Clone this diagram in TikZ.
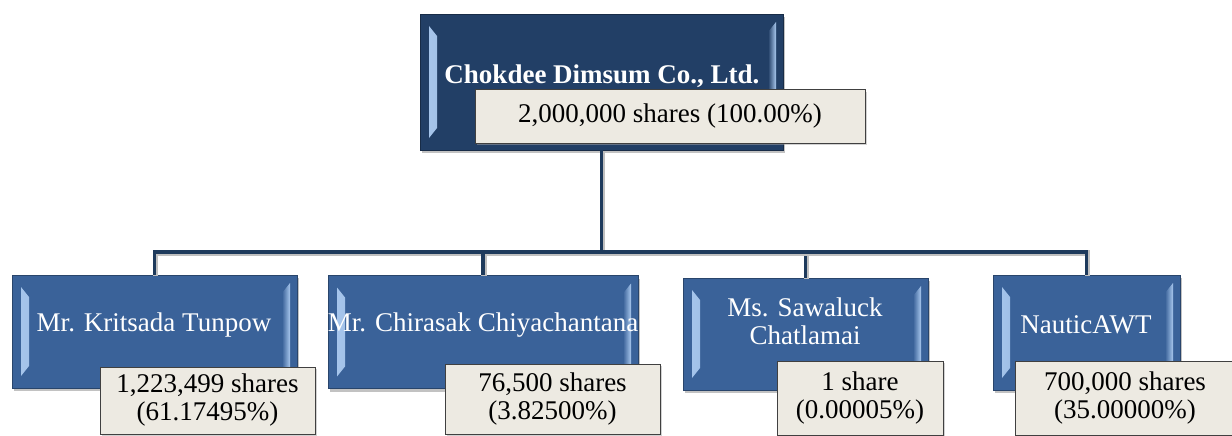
\documentclass[tikz,border=0pt]{standalone}
\usepackage{fontspec}
\setmainfont{Liberation Serif}
\usetikzlibrary{shadows,calc}
\definecolor{navytop}{HTML}{223F66}
\definecolor{boxblue}{HTML}{3A6299}
\definecolor{bevlight}{HTML}{A9C8EE}
\definecolor{linenavy}{HTML}{1E3A5C}
\definecolor{lblfill}{HTML}{EDEAE2}
\tikzset{
  bevel/.style={path picture={
    \shade[left color=bevlight, right color=#1]
      ([shift={(9pt,-12pt)}]path picture bounding box.north west) --
      ([shift={(17pt,-22pt)}]path picture bounding box.north west) --
      ([shift={(17pt,22pt)}]path picture bounding box.south west) --
      ([shift={(9pt,12pt)}]path picture bounding box.south west) -- cycle;
    \shade[right color=bevlight, left color=#1]
      ([shift={(-7pt,-8pt)}]path picture bounding box.north east) --
      ([shift={(-15pt,-18pt)}]path picture bounding box.north east) --
      ([shift={(-15pt,18pt)}]path picture bounding box.south east) --
      ([shift={(-7pt,8pt)}]path picture bounding box.south east) -- cycle;
  }},
  bluebox/.style={rectangle, fill=boxblue, draw=boxblue!70!black, line width=0.8pt,
    drop shadow={shadow xshift=2pt, shadow yshift=-3pt, fill=black!40, opacity=0.6},
    bevel=boxblue},
  topbox/.style={rectangle, fill=navytop, draw=navytop!70!black, line width=0.8pt,
    drop shadow={shadow xshift=2pt, shadow yshift=-3pt, fill=black!40, opacity=0.6},
    bevel=navytop},
  boxtext/.style={text=white, font=\fontsize{27}{28}\selectfont, align=center, inner sep=0pt},
  lbl/.style={rectangle, fill=lblfill, draw=black!75, line width=1pt, align=center,
    font=\fontsize{27}{28}\selectfont, inner sep=0pt,
    drop shadow={shadow xshift=2pt, shadow yshift=-2pt, fill=black!35, opacity=0.5}},
  conn/.style={draw=linenavy, line width=3.5pt,
    preaction={draw=black!25, line width=5.5pt, transform canvas={xshift=1pt,yshift=-1pt}}},
}
\begin{document}
\begin{tikzpicture}[x=1pt,y=-1pt]
\useasboundingbox (0,0) rectangle (1232,436);
% top
\node[topbox, minimum width=363pt, minimum height=136pt] (top) at (601.5,82) {};
\node[boxtext, font=\bfseries\fontsize{27}{28}\selectfont] (toptext) at (602,76) {Chokdee Dimsum Co., Ltd.};
% bottom boxes
\node[bluebox, minimum width=285pt, minimum height=113pt] (k1) at (154.5,331.5) {};
\node[bluebox, minimum width=310pt, minimum height=113pt] (k2) at (483,332) {};
\node[bluebox, minimum width=245pt, minimum height=112pt] (k3) at (805.5,334) {};
\node[bluebox, minimum width=187pt, minimum height=115pt] (k4) at (1086.5,332.5) {};
% connectors
\coordinate (bar) at (601.5,252);
\draw[conn] (top.south) -- (bar);
\draw[conn] (bar) -| (k1.north);
\draw[conn] (bar) -| (k2.north);
\draw[conn] (bar) -| (k3.north);
\draw[conn] (bar) -| (k4.north);
% box texts
\node[boxtext] (t1) at (154,325) {Mr. Kritsada Tunpow};
\node[boxtext] (t2) at (483,325) {Mr. Chirasak Chiyachantana};
\node[boxtext] (t3) at (805,321) {Ms. Sawaluck\\Chatlamai};
\node[boxtext] (t4) at (1086,325) {NauticAWT};
% labels
\node[lbl, minimum width=390pt, minimum height=53pt] (l0) at (670,116.5) {2,000,000 shares (100.00\%)};
\node[lbl, minimum width=215pt, minimum height=67pt] (l1) at (207.5,400.5) {1,223,499 shares\\(61.17495\%)};
\node[lbl, minimum width=215pt, minimum height=70pt] (l2) at (552.5,399) {76,500 shares\\(3.82500\%)};
\node[lbl, minimum width=166pt, minimum height=74pt] (l3) at (860,398) {1 share\\(0.00005\%)};
\node[lbl, minimum width=220pt, minimum height=74pt] (l4) at (1125,398) {700,000 shares\\(35.00000\%)};
\end{tikzpicture}
\end{document}
